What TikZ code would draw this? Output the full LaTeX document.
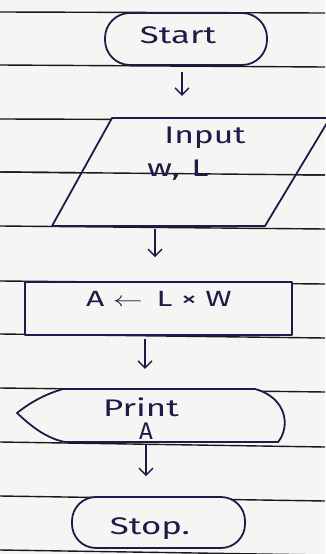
\documentclass[tikz,border=0pt]{standalone}
\usepackage{fontspec}
\setmainfont{Fira Sans}
\usetikzlibrary{arrows.meta}
\definecolor{ink}{RGB}{28,28,72}
\definecolor{ruleline}{RGB}{25,25,25}
\definecolor{paper}{RGB}{247,245,243}
\begin{document}
\begin{tikzpicture}[x=1pt,y=-1pt,
  ruled/.style={draw=ruleline,line width=1.4pt},
  outline/.style={draw=ink,line width=1.8pt,line join=round},
  term/.style={outline,rectangle,rounded corners=25pt},
  hidden/.style={rectangle,inner sep=0pt},
  hand/.style={text=ink,font=\fontsize{24}{26}\selectfont,inner sep=0pt},
  arr/.style={draw=ink,line width=1.4pt,-{Straight Barb[length=7pt,width=14pt,line width=1.4pt]}}]
\useasboundingbox[fill=paper] (0,0) rectangle (325,554);
% ruled paper
\foreach \a/\b in {12/13,65/67,119/120,172/175,226/229,281/284,334/338,388/392,442/447,496/501,550/555}
  \draw[ruled] (0,\a) -- (325,\b);
% start
\node[term,fill=paper,minimum width=162pt,minimum height=52pt] (start) at (186,39) {};
\node[hand] (startT) at (178,35) {\scalebox{1.45}[1]{Start}};
% input parallelogram
\node[hidden,minimum width=213pt,minimum height=108pt] (in) at (190,172) {};
\draw[outline,fill=paper] (52,226) -- (112,118) -- (330,118) -- (265,226) -- cycle;
\draw[ruled] (0,172) -- (325,175);
\node[hand] (inT1) at (205,138) {\scalebox{1.4}[1]{Input}};
\node[hand] (inT2) at (178,170) {\scalebox{1.45}[1]{w,\,\,L}};
% process
\node[outline,fill=paper,rectangle,minimum width=267pt,minimum height=53pt] (proc) at (158.5,308.5) {};
\node[hand,font=\fontsize{22}{24}\selectfont] (procT) at (159,299) {\scalebox{1.45}[1]{A $\leftarrow$\, L × W}};
% print (display)
\node[hidden,minimum width=266pt,minimum height=54pt] (pr) at (150,415) {};
\draw[outline,fill=paper] (63,389) .. controls (42,395) and (27,405) .. (17,413)
  .. controls (30,425) and (45,438) .. (65,442) -- (278,442)
  .. controls (290,428) and (288,398) .. (255,389) -- cycle;
\node[hand] (prT1) at (141,407) {\scalebox{1.45}[1]{Print}};
\node[hand] (prT2) at (146,431) {A};
% stop
\node[term,fill=paper,minimum width=173pt,minimum height=51pt,rounded corners=24pt] (stop) at (158.5,522.5) {};
\node[hand] (stopT) at (150,529) {\scalebox{1.45}[1]{Stop.}};
% connectors
\coordinate (c1) at (182,0);
\coordinate (c2) at (155,0);
\coordinate (c3) at (145,0);
\coordinate (c4) at (146,0);
\draw[arr,shorten <=6pt,shorten >=22pt] (start.south -| c1) -- (in.north -| c1);
\draw[arr,shorten <=3pt,shorten >=24pt] (in.south -| c2) -- (proc.north -| c2);
\draw[arr,shorten <=3pt,shorten >=19pt] (proc.south -| c3) -- (pr.north -| c3);
\draw[arr,shorten <=3pt,shorten >=20pt] (pr.south -| c4) -- (stop.north -| c4);
\end{tikzpicture}
\end{document}
